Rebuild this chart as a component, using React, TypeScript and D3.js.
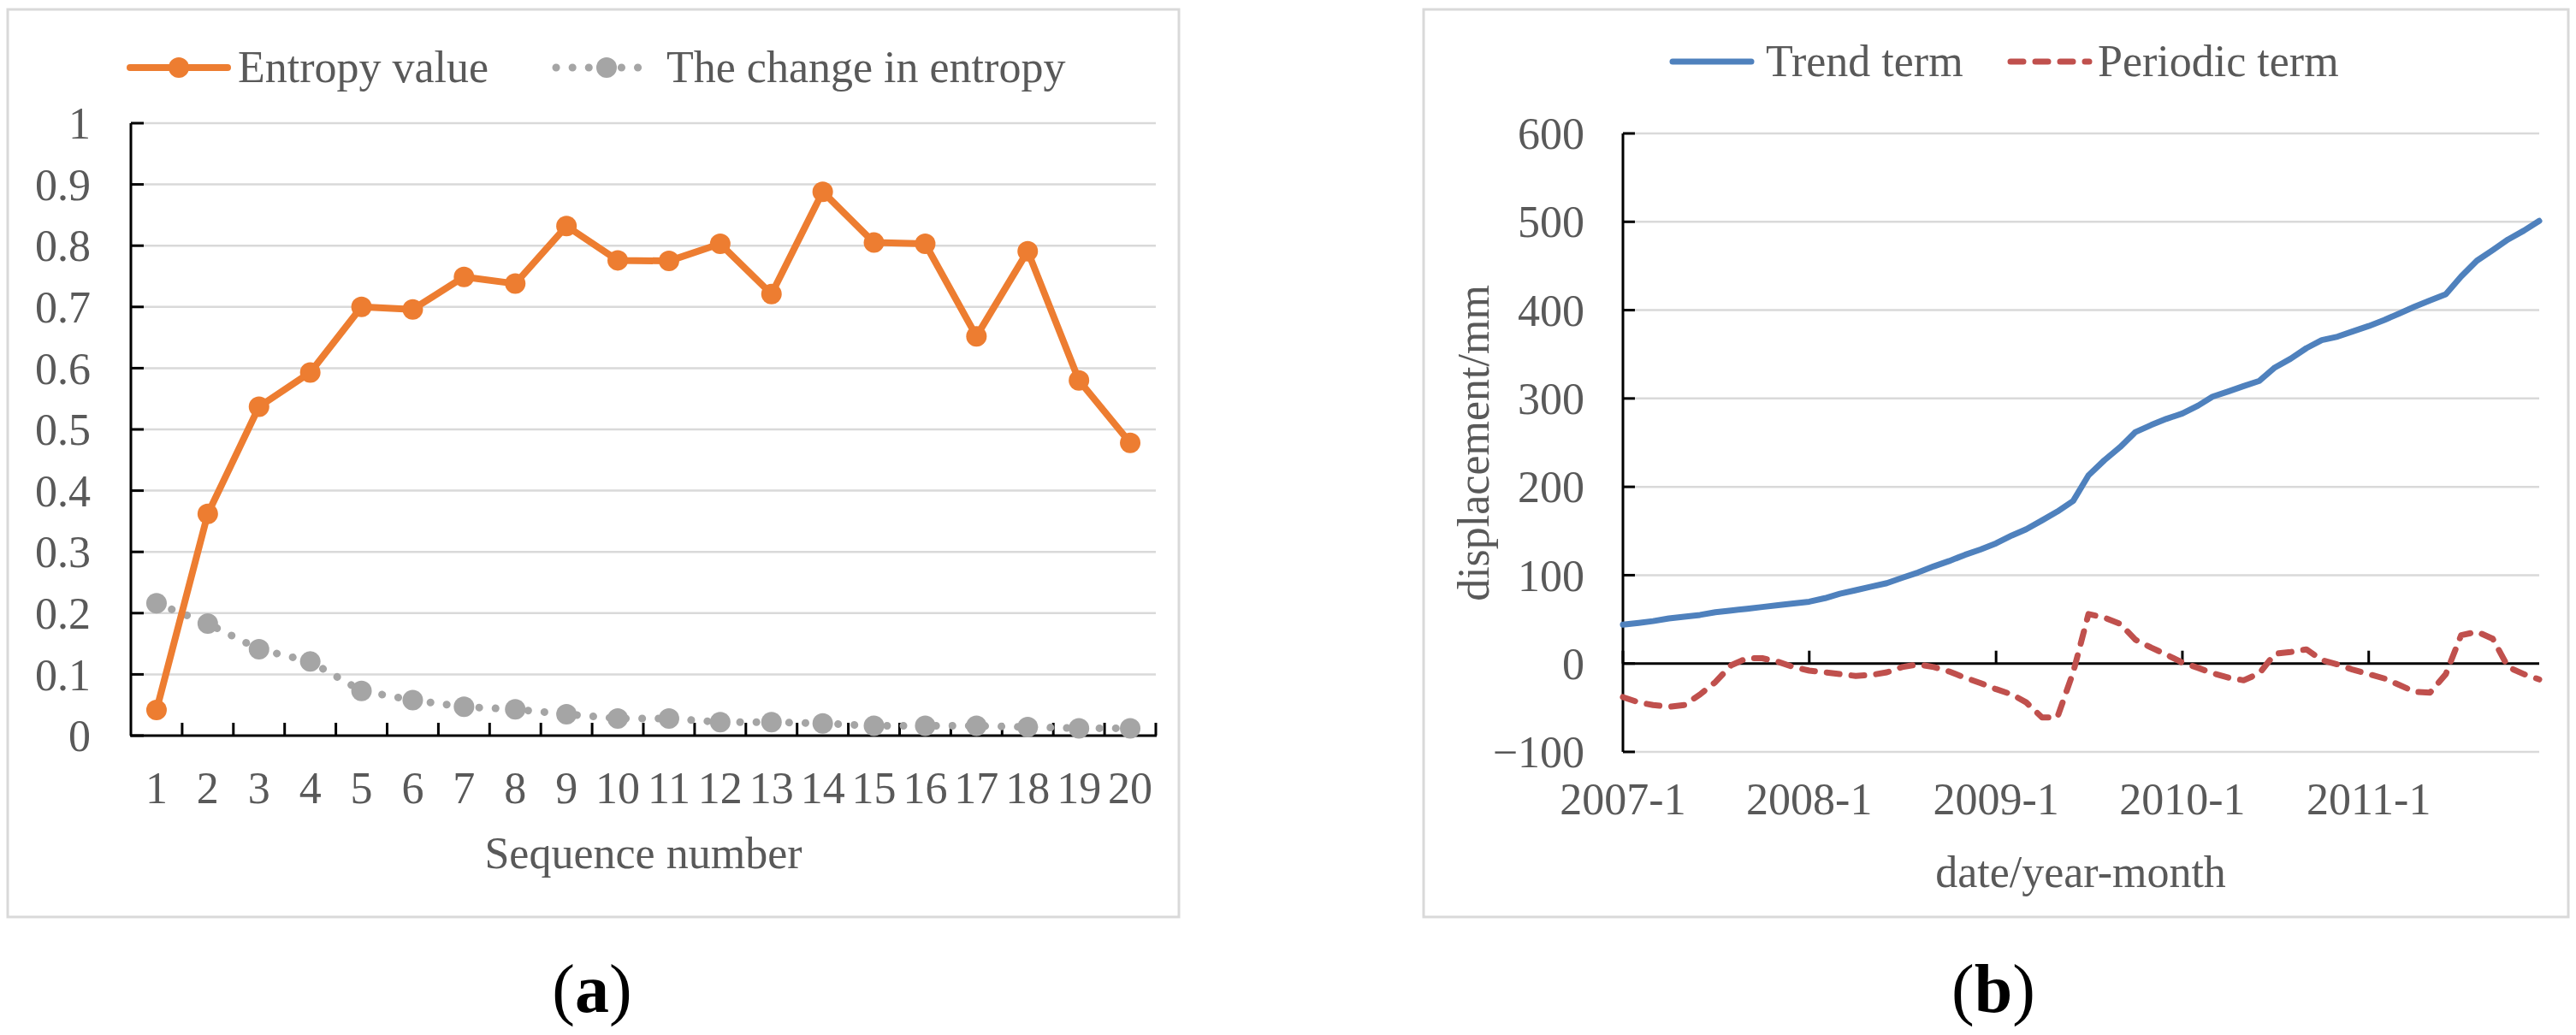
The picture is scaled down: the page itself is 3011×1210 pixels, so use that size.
import React, { useEffect, useRef } from "react";
import * as d3 from "d3";

// panel (a)
const sequenceNumbers = [1, 2, 3, 4, 5, 6, 7, 8, 9, 10, 11, 12, 13, 14, 15, 16, 17, 18, 19, 20];
const entropyValue = [
  0.042, 0.362, 0.537, 0.593, 0.7, 0.696, 0.749, 0.738, 0.832, 0.776,
  0.775, 0.803, 0.721, 0.888, 0.805, 0.803, 0.652, 0.791, 0.58, 0.478,
];
const entropyChange = [
  0.216, 0.183, 0.141, 0.121, 0.073, 0.058, 0.047, 0.043, 0.035, 0.028,
  0.028, 0.022, 0.022, 0.02, 0.016, 0.016, 0.016, 0.014, 0.012, 0.012,
];
const entropyTicks = [0, 0.1, 0.2, 0.3, 0.4, 0.5, 0.6, 0.7, 0.8, 0.9, 1];

// panel (b), monthly from 2007-1 to 2011-12
const startMonth = new Date(2007, 0, 1);
const trendTerm = [
  44, 46, 48, 51, 53, 55, 58, 60, 62, 64, 66, 68,
  70, 74, 79, 83, 87, 91, 97, 103, 110, 116, 123, 129,
  136, 145, 152, 162, 172, 184, 213, 230, 245, 262, 270, 277,
  283, 292, 302, 308, 314, 320, 335, 345, 357, 366, 370, 376,
  382, 389, 396, 404, 411, 418, 438, 456, 468, 480, 490, 501,
];
const periodicTerm = [
  -38, -44, -47, -49, -47, -35, -21, -2, 6, 6, 2, -4,
  -8, -10, -12, -14, -13, -10, -4, -1, -4, -9, -16, -22,
  -29, -35, -44, -61, -61, -10, 56, 52, 45, 27, 18, 10,
  1, -5, -11, -16, -19, -11, 11, 13, 16, 4, -1, -7,
  -12, -17, -24, -32, -33, -12, 32, 36, 28, -4, -12, -18,
];
const displacementTicks = [-100, 0, 100, 200, 300, 400, 500, 600];

const FONT = "'Liberation Serif', 'Times New Roman', serif";
const TEXT = "#595959";
const GRID = "#d9d9d9";

const App = () => {
  const ref = useRef<SVGSVGElement>(null);

  useEffect(() => {
    const svg = d3.select(ref.current);
    svg.selectAll("*").remove();

    // ---------- (a) ----------
    const a = svg.append("g");
    a.append("rect")
      .attr("x", 9).attr("y", 11).attr("width", 1369).attr("height", 1061)
      .attr("fill", "#fff").attr("stroke", GRID).attr("stroke-width", 3);

    const xA = d3.scaleBand<number>().domain(sequenceNumbers).range([153, 1351]);
    const yA = d3.scaleLinear().domain([0, 1]).range([860, 144]);

    a.selectAll(".grid").data(entropyTicks.slice(1)).join("line")
      .attr("x1", 153).attr("x2", 1351)
      .attr("y1", (d) => yA(d)).attr("y2", (d) => yA(d))
      .attr("stroke", GRID).attr("stroke-width", 2.5);

    // y axis
    a.append("line").attr("x1", 153).attr("x2", 153).attr("y1", 144).attr("y2", 860)
      .attr("stroke", "#000").attr("stroke-width", 3);
    a.selectAll(".ytick").data(entropyTicks).join("line")
      .attr("x1", 153).attr("x2", 168)
      .attr("y1", (d) => yA(d)).attr("y2", (d) => yA(d))
      .attr("stroke", "#000").attr("stroke-width", 3);
    a.selectAll(".ylab").data(entropyTicks).join("text")
      .attr("x", 106).attr("y", (d) => yA(d)).attr("dy", "0.35em")
      .attr("text-anchor", "end")
      .text((d) => String(d));

    // x axis
    a.append("line").attr("x1", 152).attr("x2", 1352).attr("y1", 860).attr("y2", 860)
      .attr("stroke", "#000").attr("stroke-width", 3);
    a.selectAll(".xtick").data(sequenceNumbers).join("line")
      .attr("x1", (d) => xA(d)! + xA.bandwidth()).attr("x2", (d) => xA(d)! + xA.bandwidth())
      .attr("y1", 845).attr("y2", 860)
      .attr("stroke", "#000").attr("stroke-width", 3);
    a.selectAll(".xlab").data(sequenceNumbers).join("text")
      .attr("x", (d) => xA(d)! + xA.bandwidth() / 2).attr("y", 939)
      .attr("text-anchor", "middle")
      .text((d) => String(d));
    a.append("text").attr("x", 752).attr("y", 1015).attr("text-anchor", "middle")
      .text("Sequence number");

    const cx = (i: number) => xA(sequenceNumbers[i])! + xA.bandwidth() / 2;

    // change in entropy (dotted gray)
    const lineA = d3.line<number>().x((_, i) => cx(i)).y((d) => yA(d));
    a.append("path").datum(entropyChange).attr("d", lineA)
      .attr("fill", "none").attr("stroke", "#A5A5A5").attr("stroke-width", 9)
      .attr("stroke-linecap", "round").attr("stroke-dasharray", "0.1 19");
    a.selectAll(".gdot").data(entropyChange).join("circle")
      .attr("cx", (_, i) => cx(i)).attr("cy", (d) => yA(d)).attr("r", 12)
      .attr("fill", "#A5A5A5");

    // entropy value (orange)
    a.append("path").datum(entropyValue).attr("d", lineA)
      .attr("fill", "none").attr("stroke", "#ED7D31").attr("stroke-width", 8)
      .attr("stroke-linejoin", "round").attr("stroke-linecap", "round");
    a.selectAll(".odot").data(entropyValue).join("circle")
      .attr("cx", (_, i) => cx(i)).attr("cy", (d) => yA(d)).attr("r", 12)
      .attr("fill", "#ED7D31");

    // legend (a)
    a.append("line").attr("x1", 152).attr("x2", 266).attr("y1", 79).attr("y2", 79)
      .attr("stroke", "#ED7D31").attr("stroke-width", 8).attr("stroke-linecap", "round");
    a.append("circle").attr("cx", 209).attr("cy", 79).attr("r", 12).attr("fill", "#ED7D31");
    a.append("text").attr("x", 278).attr("y", 96).text("Entropy value");
    a.append("line").attr("x1", 650).attr("x2", 750).attr("y1", 79).attr("y2", 79)
      .attr("stroke", "#A5A5A5").attr("stroke-width", 9)
      .attr("stroke-linecap", "round").attr("stroke-dasharray", "0.1 19");
    a.append("circle").attr("cx", 709).attr("cy", 79).attr("r", 12).attr("fill", "#A5A5A5");
    a.append("text").attr("x", 779).attr("y", 96).text("The change in entropy");

    // ---------- (b) ----------
    const b = svg.append("g");
    b.append("rect")
      .attr("x", 1664).attr("y", 11).attr("width", 1338).attr("height", 1061)
      .attr("fill", "#fff").attr("stroke", GRID).attr("stroke-width", 3);

    const months = trendTerm.map((_, i) => d3.timeMonth.offset(startMonth, i));
    const xB = d3.scaleTime().domain([months[0], months[months.length - 1]]).range([1897, 2968]);
    const yB = d3.scaleLinear().domain([-100, 600]).range([879, 156]);

    b.selectAll(".grid").data(displacementTicks.filter((d) => d !== 0)).join("line")
      .attr("x1", 1897).attr("x2", 2968)
      .attr("y1", (d) => yB(d)).attr("y2", (d) => yB(d))
      .attr("stroke", GRID).attr("stroke-width", 2.5);

    b.append("line").attr("x1", 1897).attr("x2", 1897).attr("y1", 156).attr("y2", 879)
      .attr("stroke", "#000").attr("stroke-width", 3);
    b.selectAll(".ytick").data(displacementTicks).join("line")
      .attr("x1", 1897).attr("x2", 1911)
      .attr("y1", (d) => yB(d)).attr("y2", (d) => yB(d))
      .attr("stroke", "#000").attr("stroke-width", 3);
    b.selectAll(".ylab").data(displacementTicks).join("text")
      .attr("x", 1852).attr("y", (d) => yB(d)).attr("dy", "0.35em")
      .attr("text-anchor", "end")
      .text((d) => (d < 0 ? `\u2212${Math.abs(d)}` : String(d)));

    // zero line as x axis
    b.append("line").attr("x1", 1896).attr("x2", 2968).attr("y1", yB(0)).attr("y2", yB(0))
      .attr("stroke", "#000").attr("stroke-width", 3);
    const yearTicks = d3.timeYear.range(new Date(2007, 0, 1), new Date(2012, 0, 1));
    const fmt = d3.timeFormat("%Y-%-m");
    b.selectAll(".xtick").data(yearTicks).join("line")
      .attr("x1", (d) => xB(d)).attr("x2", (d) => xB(d))
      .attr("y1", yB(0) - 15).attr("y2", yB(0))
      .attr("stroke", "#000").attr("stroke-width", 3);
    b.selectAll(".xlab").data(yearTicks).join("text")
      .attr("x", (d) => xB(d)).attr("y", 952).attr("text-anchor", "middle")
      .text((d) => fmt(d));
    b.append("text").attr("x", 2432).attr("y", 1037).attr("text-anchor", "middle")
      .text("date/year-month");
    b.append("text")
      .attr("transform", "translate(1740,518) rotate(-90)")
      .attr("text-anchor", "middle")
      .text("displacement/mm");

    const lineB = d3.line<number>().x((_, i) => xB(months[i])).y((d) => yB(d));
    b.append("path").datum(trendTerm).attr("d", lineB)
      .attr("fill", "none").attr("stroke", "#4F81BD").attr("stroke-width", 7)
      .attr("stroke-linejoin", "round").attr("stroke-linecap", "round");
    b.append("path").datum(periodicTerm).attr("d", lineB)
      .attr("fill", "none").attr("stroke", "#C0504D").attr("stroke-width", 7)
      .attr("stroke-linejoin", "round").attr("stroke-linecap", "round")
      .attr("stroke-dasharray", "15 14");

    // legend (b)
    b.append("line").attr("x1", 1955).attr("x2", 2047).attr("y1", 72).attr("y2", 72)
      .attr("stroke", "#4F81BD").attr("stroke-width", 7).attr("stroke-linecap", "round");
    b.append("text").attr("x", 2064).attr("y", 89).text("Trend term");
    b.append("line").attr("x1", 2350).attr("x2", 2442).attr("y1", 72).attr("y2", 72)
      .attr("stroke", "#C0504D").attr("stroke-width", 7).attr("stroke-linecap", "round")
      .attr("stroke-dasharray", "15 14");
    b.append("text").attr("x", 2452).attr("y", 89).text("Periodic term");

    svg.selectAll("text").filter(function () {
      return !d3.select(this).attr("fill");
    })
      .attr("fill", TEXT).attr("font-family", FONT).attr("font-size", 52);

    // panel captions
    [
      { x: 692, label: "a" },
      { x: 2330, label: "b" },
    ].forEach((c) => {
      const t = svg.append("text").attr("x", c.x).attr("y", 1183)
        .attr("text-anchor", "middle").attr("font-family", FONT)
        .attr("font-size", 80).attr("fill", "#000");
      t.append("tspan").text("(");
      t.append("tspan").attr("font-weight", "bold").text(c.label);
      t.append("tspan").text(")");
    });
  }, []);

  return (
    <svg
      ref={ref}
      width={3011}
      height={1210}
      style={{ position: "absolute", left: 0, top: 0, background: "#fff" }}
    />
  );
};

export default App;
